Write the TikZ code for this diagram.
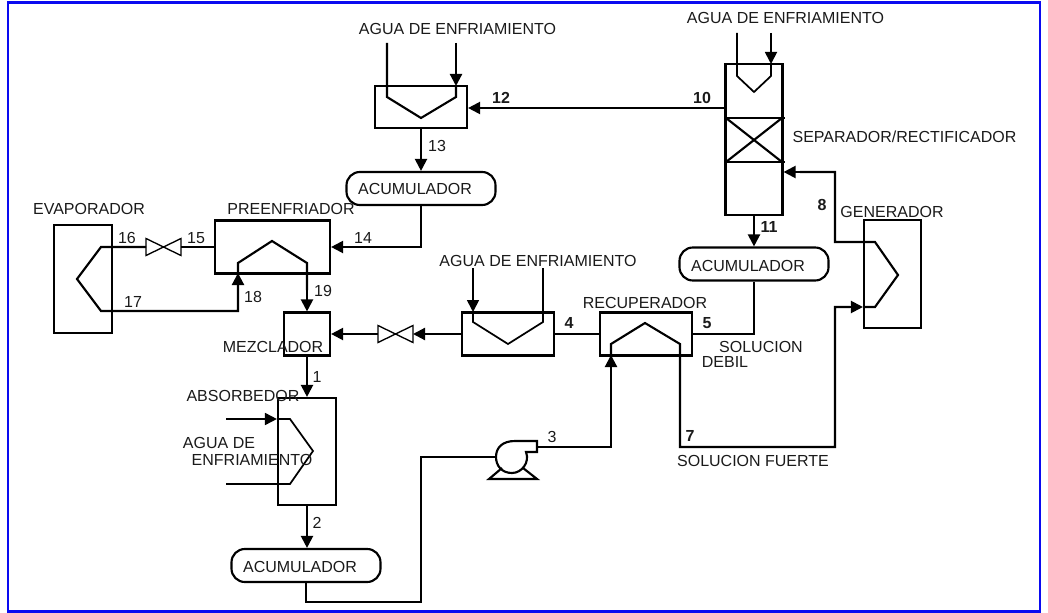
\documentclass[tikz,border=0pt]{standalone}
\usepackage{fontspec}
\setmainfont{Liberation Sans}
\usetikzlibrary{arrows.meta}
\definecolor{frameblue}{HTML}{0A0AF0}
\definecolor{inkgray}{HTML}{1A1A1A}
\newcommand{\pxu}{0.75pt}

\begin{document}
\begin{tikzpicture}[
  x=0.75pt, y=-0.75pt,
  >={Triangle[length=9pt, width=9pt]},
  line width=1.6pt,
  unit/.style 2 args={draw=black, minimum width=#1*\pxu, minimum height=#2*\pxu, inner sep=0pt},
  acum/.style={draw=black, rounded corners=10pt, minimum width=149*\pxu, minimum height=33*\pxu, inner sep=0pt},
  valve/.style={minimum width=35*\pxu, minimum height=17*\pxu, inner sep=0pt, outer sep=0pt},
  lbl/.style={inkgray, font=\fontsize{12}{14}\selectfont, inner sep=0pt},
  num/.style={lbl},
  bnum/.style={lbl, font=\fontsize{12}{14}\selectfont\bfseries},
  coil/.style={line join=miter},
  flow/.style={->}
]

% Frame
\useasboundingbox (0,0) rectangle (1048,613);
\draw[frameblue, line width=1.7pt] (8,2.5) rectangle (1040,611.5);

% ── Units ──
\node[unit={92}{42}] (cond) at (421,107) {};
\node[unit={57}{151}] (sep) at (754,139.5) {};
\node[unit={115}{53}] (preenf) at (272.5,247) {};
\node[unit={58}{108}] (evap) at (83,279) {};
\node[unit={46}{43}] (mezcla) at (307,334) {};
\node[unit={92}{43}] (enfria) at (508,334) {};
\node[unit={92}{43}] (recup) at (646,334) {};
\node[unit={57}{108}] (gener) at (892.5,274) {};
\node[unit={58}{107}] (absor) at (307,451.5) {};

\node[acum] (acumA) at (421,188.5) {};
\node[acum] (acumB) at (754,264) {};
\node[acum] (acumC) at (306,565.5) {};

\node[valve] (valA) at (163.5,247) {};
\node[valve] (valB) at (395.5,334) {};
\foreach \v in {valA, valB} {
  \draw[line width=1pt] (\v.north west) -- (\v.south east) -- (\v.north east) -- (\v.south west) -- cycle;
}

% ── Separator packing ──
\draw[line width=1.2pt] (724,118) -- (785,118);
\draw[line width=1.2pt] (724,162) -- (785,162);
\draw (726,118) -- (782,162);
\draw (782,118) -- (726,162);

% ── Cooling water coils ──
\draw[coil] (387,43) -- (387,97) -- (421,118) -- (456,97) -- (456,86);
\draw[flow] (456,43) -- (456,86);
\draw[coil, line width=1.3pt] (737,33) -- (737,76) -- (754,92) -- (771,76) -- (771,64);
\draw[flow, line width=1.3pt] (771,33) -- (771,64);
\draw[flow, line width=1.3pt] (473,268) -- (473,312);
\draw[coil, line width=1.3pt] (473,312) -- (473,322) -- (508,344) -- (543,322) -- (543,268);
\draw[flow, line width=1.3pt] (226,419) -- (absor.west |- 0,419);
\draw[coil, line width=1.3pt] (278,419) -- (290,419) -- (313,451) -- (290,484) -- (226,484);

% ── Upper loop ──
\coordinate (sepTop) at (726,108);
\draw[flow] (sepTop) -- (cond.east |- sepTop);
\draw[flow] (cond.south) -- (cond.south |- acumA.north);
\draw[flow] (acumA.south) |- (preenf.east);
\draw (preenf.west) -- (valA.east);
\draw (valA.west) -- (101,247) -- (77,279) -- (101,311) -- (238,311) -- (238,285);
\draw[flow] (238,300) -- (238,273);
\draw[coil] (238,273) -- (238,263) -- (272,241) -- (307,263) -- (307,290);
\draw[flow] (307,280) -- (mezcla.north);

% ── Lower loop ──
\draw[flow] (mezcla.south) -- (absor.north);
\draw[flow] (absor.south) -- (absor.south |- acumC.north);
\draw[flow] (sep.south) -- (acumB.north);
\coordinate (recupOut) at (754,334);
\draw (acumB.south) -- (recupOut) -- (recup.east |- recupOut);
\draw (recup.west) -- (enfria.east);
\draw[flow] (enfria.west) -- (valB.east);
\draw[flow] (valB.west) -- (mezcla.east);

% ── Pump ──
\node[circle, minimum size=32*\pxu, inner sep=0pt] (pump) at (512,457) {};
\coordinate (sucA) at (421,457);
\coordinate (sucB) at (421,602);
\coordinate (sucC) at (acumC.south |- sucB);
\draw (pump.west) -- (sucA) -- (sucB) -- (sucC) -- (acumC.south);
\draw[line join=miter] (526,452) .. controls (530,462) and (522,473) .. (512,473) .. controls (502,473) and (496,466) .. (496,457) .. controls (496,447) and (503,441) .. (515,441) -- (537,441) -- (537,452) -- cycle;
\draw[line join=miter] (502,468) -- (489,479) -- (537,479) -- (523,468);
\coordinate (pumpOut) at (537,447);

% ── Strong and weak solution ──
\draw (pumpOut) -- (611,447) -- (611,365);
\draw[flow] (611,380) -- (611,355);
\draw[coil] (611,355) -- (611,344) -- (645,323) -- (680,344) -- (680,447) -- (835,447) -- (835,307) -- (850,307);
\draw[flow] (835,307) -- (gener.west |- 0,307);
\draw[coil] (864,307) -- (875,307) -- (898,275) -- (875,242) -- (835,242) -- (835,172) -- (800,172);
\draw[flow] (835,172) -- (sep.east |- 0,172);

% ── Unit labels ──
\node[lbl] (tAguaA) at (457.5,29) {AGUA DE ENFRIAMIENTO};
\node[lbl] (tAguaB) at (785.5,18) {AGUA DE ENFRIAMIENTO};
\node[lbl] (tAguaC) at (538,261) {AGUA DE ENFRIAMIENTO};
\node[lbl] (tSep) at (904.5,137) {SEPARADOR/RECTIFICADOR};
\node[lbl] (tAcumA) at (415,189) {ACUMULADOR};
\node[lbl] (tAcumB) at (748,265.5) {ACUMULADOR};
\node[lbl] (tAcumC) at (300,566.5) {ACUMULADOR};
\node[lbl] (tEvap) at (89,209) {EVAPORADOR};
\node[lbl] (tPreen) at (291,209) {PREENFRIADOR};
\node[lbl] (tMezcla) at (273,346.5) {MEZCLADOR};
\node[lbl] (tRecup) at (645,303) {RECUPERADOR};
\node[lbl] (tGener) at (892,212) {GENERADOR};
\node[lbl] (tSolA) at (761,347) {SOLUCION};
\node[lbl] (tSolB) at (725,362) {DEBIL};
\node[lbl] (tFuerte) at (753,461) {SOLUCION FUERTE};
\node[lbl] (tAbsor) at (243,396) {ABSORBEDOR};
\node[lbl] (tAguaD) at (219,442.5) {AGUA DE};
\node[lbl] (tAguaE) at (252,460) {ENFRIAMIENTO};

% ── Stream numbers ──
\foreach \t/\xx/\yy in {1/317/377, 2/317/522.5, 3/552/437, 13/437/146, 14/363/238, 15/196/238, 16/127/238, 17/133/302, 18/253/297, 19/323/291} {
  \node[num] at (\xx,\yy) {\t};
}
\foreach \t/\xx/\yy in {4/569/323, 5/707/323, 7/690/436, 8/822/205, 10/702/98, 11/769/227, 12/501/98} {
  \node[bnum] at (\xx,\yy) {\t};
}

\end{tikzpicture}
\end{document}
